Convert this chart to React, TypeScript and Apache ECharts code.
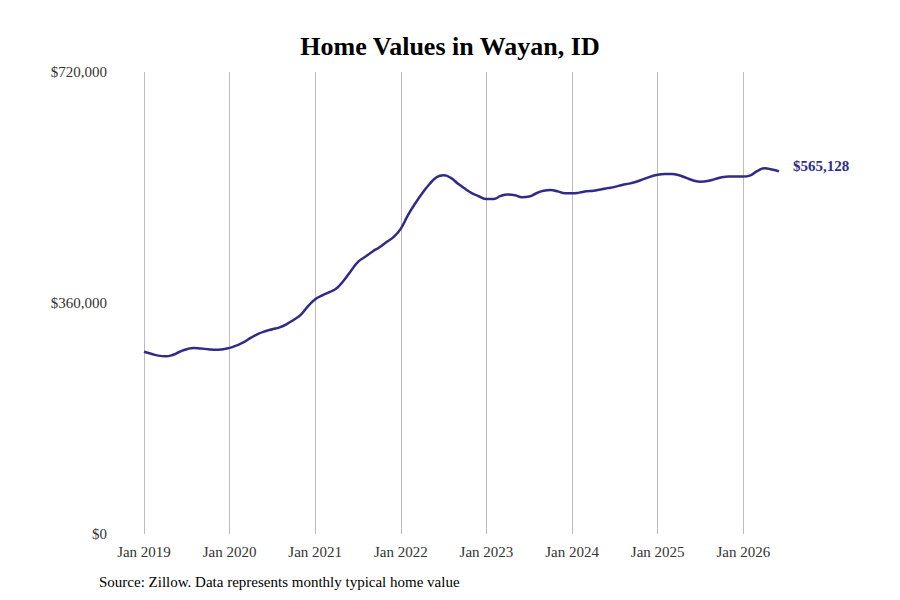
import React, { useEffect, useRef } from 'react';
import * as echarts from 'echarts';

const MONTHS = ['Jan', 'Feb', 'Mar', 'Apr', 'May', 'Jun', 'Jul', 'Aug', 'Sep', 'Oct', 'Nov', 'Dec'];
const YEARS = [2019, 2020, 2021, 2022, 2023, 2024, 2025, 2026];

// typical home value, thousands of dollars, Jan 2019 .. Jun 2026
const values = [
  284, 281, 278, 277, 279, 284, 288, 290, 289, 288, 287, 288,
  290, 294, 299, 306, 312, 316, 319, 322, 327, 334, 342, 355,
  366, 372, 377, 383, 395, 410, 424, 432, 440, 447, 455, 463,
  476, 497, 515, 531, 545, 556, 559, 555, 546, 538, 531, 526,
  522, 522, 527, 529, 528, 525, 526, 531, 535, 536, 534, 531,
  531, 532, 534, 535, 537, 539, 541, 544, 546, 549, 553, 557,
  560, 561, 561, 559, 555, 551, 549, 550, 553, 556, 557, 557,
  557, 559, 566, 570, 568, 565.128,
].map(v => v * 1000);

const categories = values.map((_, i) => `${MONTHS[i % 12]} ${YEARS[Math.floor(i / 12)]}`);
const yTicks = [0, 360000, 720000];

const fmt = (v: number) => '$' + Math.round(v).toLocaleString('en-US');
const FONT = 'Liberation Serif';

export default function App() {
  const ref = useRef<HTMLDivElement>(null);

  useEffect(() => {
    if (!ref.current) return;
    const chart = echarts.init(ref.current, undefined, { renderer: 'svg' });
    chart.setOption({
      animation: false,
      title: {
        text: 'Home Values in Wayan, ID',
        left: 'center',
        top: 28,
        textStyle: { fontFamily: FONT, fontSize: 26, fontWeight: 'bold', color: '#000' },
      },
      graphic: [
        {
          type: 'text',
          left: 99,
          top: 574,
          style: {
            text: 'Source: Zillow. Data represents monthly typical home value',
            font: `15px "${FONT}"`,
            fill: '#000',
          },
        },
      ],
      grid: { left: 144, right: 121, top: 72, bottom: 66 },
      xAxis: {
        type: 'category',
        data: categories,
        boundaryGap: false,
        axisLine: { show: false },
        axisTick: { show: false },
        axisLabel: {
          interval: (i: number) => i % 12 === 0,
          color: '#333',
          fontFamily: FONT,
          fontSize: 15,
          margin: 10,
        },
        splitLine: {
          show: true,
          interval: (i: number) => i % 12 === 0,
          lineStyle: { color: '#bbb', width: 1 },
        },
      },
      yAxis: {
        type: 'value',
        min: 0,
        max: 720000,
        interval: 360000,
        axisLine: { show: false },
        axisTick: { show: false },
        splitLine: { show: false },
        axisLabel: {
          color: '#333',
          fontFamily: FONT,
          fontSize: 15,
          margin: 37,
          formatter: (v: number) => (yTicks.includes(v) ? fmt(v) : ''),
        },
      },
      series: [
        {
          type: 'line',
          data: values,
          smooth: true,
          symbol: 'none',
          lineStyle: { color: '#2e2c88', width: 2.5 },
          endLabel: {
            show: true,
            formatter: (p: any) => fmt(p.value),
            color: '#2e2c88',
            fontFamily: FONT,
            fontSize: 15,
            fontWeight: 'bold',
            distance: 14,
            offset: [0, -5],
          },
        },
      ],
    });
    return () => chart.dispose();
  }, []);

  return <div ref={ref} style={{ width: 900, height: 600, margin: -8 }} />;
}
